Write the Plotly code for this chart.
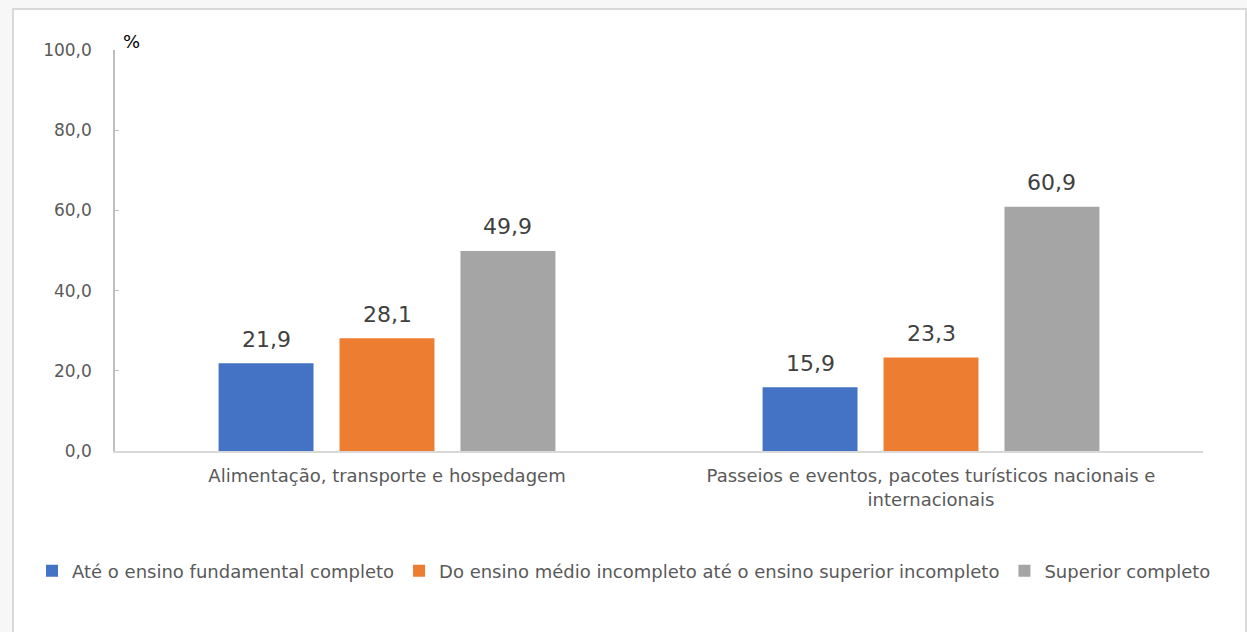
import plotly.graph_objects as go

categories = ["Alimentação, transporte e hospedagem",
              "Passeios e eventos, pacotes turísticos nacionais e<br>internacionais"]
series_names = ["Até o ensino fundamental completo",
                "Do ensino médio incompleto até o ensino superior incompleto",
                "Superior completo"]
series_values = [[21.9, 15.9], [28.1, 23.3], [49.9, 60.9]]
colors = ["#4472C4", "#ED7D31", "#A5A5A5"]
y_ticks = [0, 20, 40, 60, 80, 100]

FONT = "DejaVu Sans"
W, H = 1247, 632
L, R, T, B = 115, 44, 50, 181
BARGAP, GROUPGAP = 0.333, 0.215

fig = go.Figure()
for name, vals, col in zip(series_names, series_values, colors):
    fig.add_trace(go.Bar(
        x=categories, y=vals, name=name, marker_color=col,
        marker_line_width=0,
    ))

pw, ph = W - L - R, H - T - B
def px(x): return (x - L) / pw
def py(y): return (H - B - y) / ph

# data labels above each bar, placed at the bar's value
slot = pw / len(categories) * (1 - BARGAP) / len(series_names)
for i, vals in enumerate(series_values):
    for cat, v in zip(categories, vals):
        fig.add_annotation(x=cat, y=v, text=f"{v:.1f}".replace(".", ","),
                           xshift=(i - (len(series_names) - 1) / 2) * slot,
                           yshift=24, yanchor="middle", showarrow=False,
                           font=dict(family=FONT, size=22, color="#404040"))

fig.add_shape(type="rect", xref="paper", yref="paper",
              x0=px(13), x1=px(1246), y0=py(660), y1=py(9),
              fillcolor="white", line=dict(color="#d9d9d9", width=2), layer="below")

fig.add_annotation(text="%", xref="paper", yref="paper", x=px(121), y=py(42),
                   xanchor="left", yanchor="middle", showarrow=False,
                   font=dict(family=FONT, size=18, color="#000000"))

fig.update_layout(
    width=W, height=H,
    margin=dict(l=L, r=R, t=T, b=B),
    paper_bgcolor="#f7f7f7", plot_bgcolor="white",
    separators=",.",
    barmode="group", bargap=BARGAP, bargroupgap=GROUPGAP,
    font=dict(family=FONT, color="#595959"),
    showlegend=True,
    legend=dict(orientation="h", x=px(32), xanchor="left", y=py(571), yanchor="middle",
                bgcolor="rgba(0,0,0,0)",
                font=dict(family=FONT, size=18, color="#595959"),
                itemwidth=30, traceorder="normal"),
    xaxis=dict(showline=True, linecolor="#d9d9d9", linewidth=1.5, ticks="",
               tickfont=dict(family=FONT, size=18, color="#595959"),
               ticklabelstandoff=8,
               showgrid=False, fixedrange=True),
    yaxis=dict(range=[0, 100], tickvals=y_ticks, tickformat=".1f",
               showline=True, linecolor="#bfbfbf", linewidth=1.5,
               ticks="inside", ticklen=4, tickcolor="#bfbfbf",
               showgrid=False, zeroline=False,
               tickfont=dict(family=FONT, size=17, color="#595959"),
               ticklabelstandoff=18),
)

fig.write_html("out.html", config={"displayModeBar": False},
               post_script="document.body.style.margin='0';document.body.style.background='#f7f7f7';")
